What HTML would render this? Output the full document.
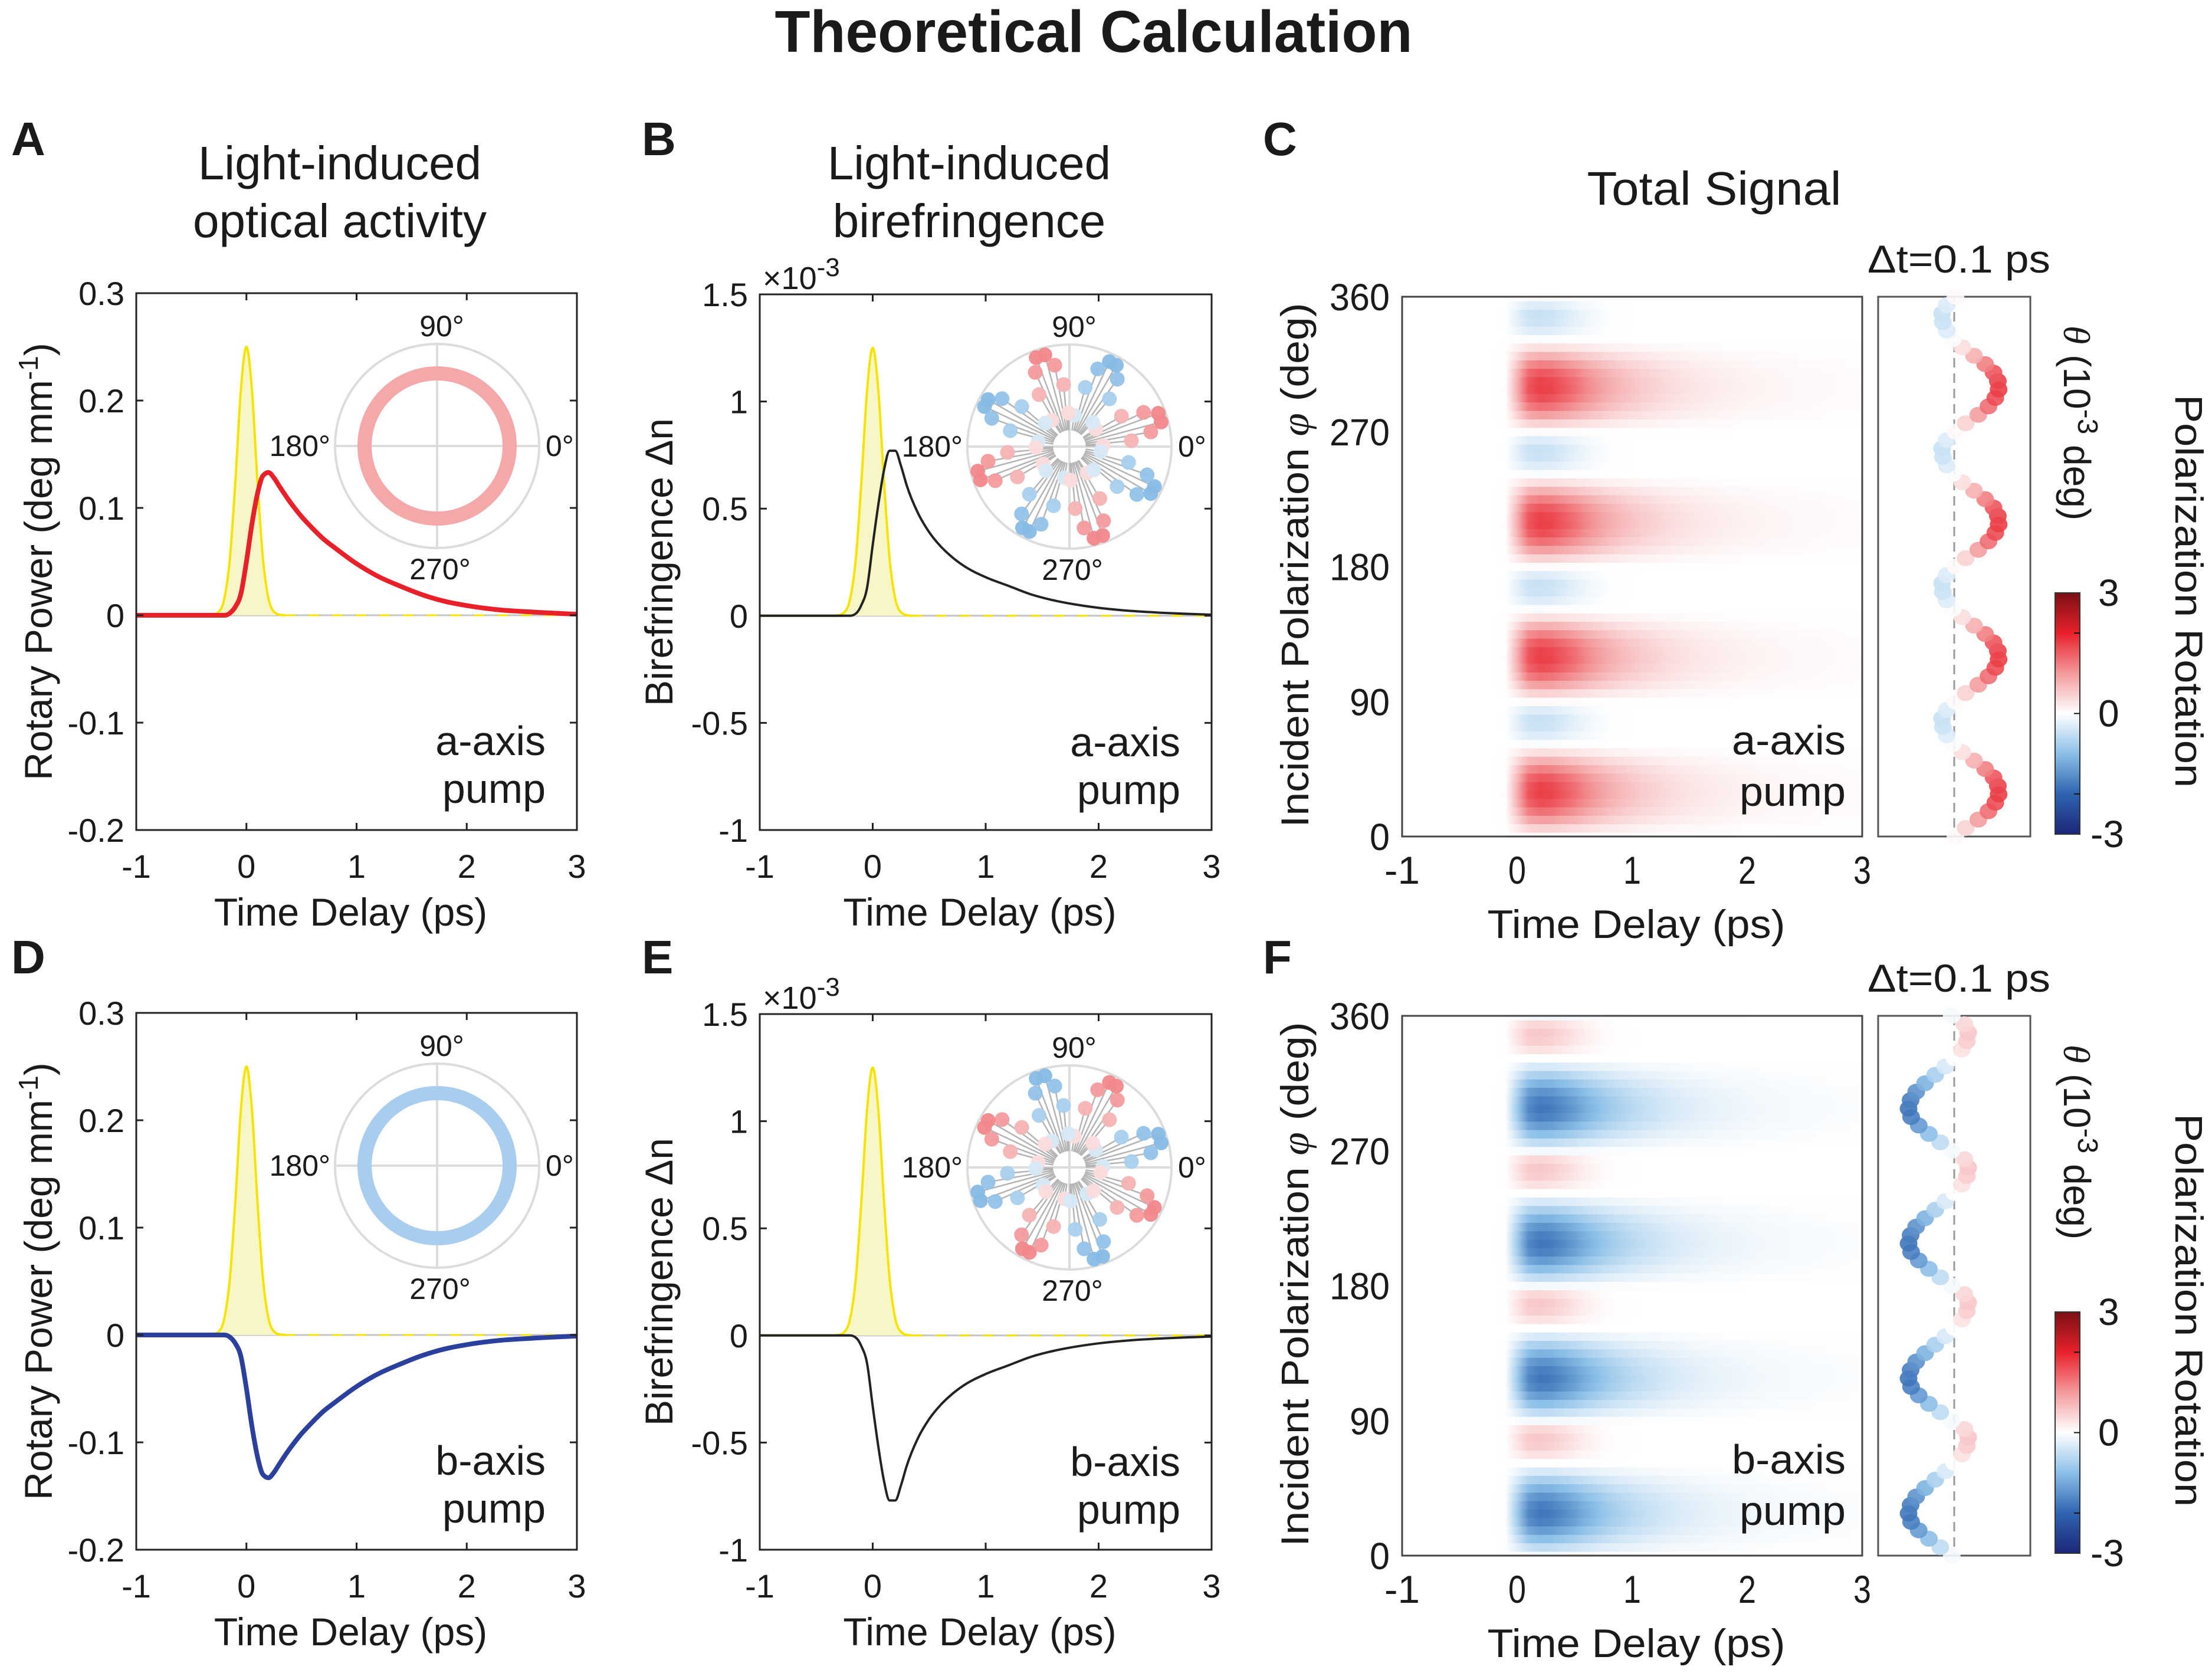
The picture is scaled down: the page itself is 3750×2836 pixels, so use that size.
<!DOCTYPE html>
<html><head><meta charset="utf-8"><title>Theoretical Calculation</title>
<style>html,body{margin:0;padding:0;background:#fff}svg{display:block}text{font-family:"Liberation Sans",sans-serif;fill:#1a1a1a}</style>
</head><body>
<svg id="fig" width="3750" height="2836" viewBox="0 0 3750 2836" xmlns="http://www.w3.org/2000/svg">
<rect x="0" y="0" width="3750" height="2836" fill="#fff"/>
<text x="1854" y="88" font-size="100" font-weight="bold" text-anchor="middle" textLength="1081" lengthAdjust="spacingAndGlyphs">Theoretical Calculation</text>
<text x="19" y="263" font-size="80" font-weight="bold">A</text>
<text x="1088" y="263" font-size="80" font-weight="bold">B</text>
<text x="2141" y="263" font-size="80" font-weight="bold">C</text>
<text x="19" y="1650" font-size="80" font-weight="bold">D</text>
<text x="1088" y="1650" font-size="80" font-weight="bold">E</text>
<text x="2141" y="1650" font-size="80" font-weight="bold">F</text>
<text x="576" y="304" font-size="80" text-anchor="middle">Light-induced</text>
<text x="576" y="402" font-size="80" text-anchor="middle">optical activity</text>
<text x="1643" y="304" font-size="80" text-anchor="middle">Light-induced</text>
<text x="1643" y="402" font-size="80" text-anchor="middle">birefringence</text>
<text x="2906" y="347" font-size="80" text-anchor="middle" textLength="431" lengthAdjust="spacingAndGlyphs">Total Signal</text>
</svg>
<script>
const NS='http://www.w3.org/2000/svg';
const svg=document.getElementById('fig');
// ---------- data ----------
const times=[-1,-0.3,-0.2,-0.15,-0.1,-0.05,0,0.05,0.1,0.15,0.2,0.25,0.3,0.4,0.5,0.6,0.7,0.8,1.0,1.2,1.4,1.6,1.8,2.0,2.3,2.6,3.0];
const rotaryA=[0,0,0,0.002,0.008,0.02,0.05,0.085,0.113,0.13,0.133,0.128,0.12,0.105,0.092,0.081,0.071,0.063,0.048,0.036,0.027,0.019,0.013,0.009,0.005,0.003,0.001];
const rotaryD=[0,0,0,-0.002,-0.008,-0.02,-0.05,-0.085,-0.113,-0.13,-0.133,-0.128,-0.12,-0.105,-0.092,-0.081,-0.071,-0.063,-0.048,-0.036,-0.027,-0.019,-0.013,-0.009,-0.005,-0.003,-0.001];
const birefB=[0,0,0,0.01,0.05,0.13,0.33,0.52,0.68,0.77,0.77,0.70,0.61,0.48,0.39,0.325,0.275,0.235,0.18,0.14,0.10,0.072,0.052,0.037,0.022,0.013,0.005];
const birefE=[0,0,0,-0.01,-0.05,-0.13,-0.33,-0.52,-0.68,-0.77,-0.77,-0.70,-0.61,-0.48,-0.39,-0.325,-0.275,-0.235,-0.18,-0.14,-0.10,-0.072,-0.052,-0.037,-0.022,-0.013,-0.005];
const pumpTimes=[-1,-0.35,-0.3,-0.25,-0.2,-0.15,-0.1,-0.05,0,0.05,0.1,0.15,0.2,0.25,0.3,0.35];
const pumpRot=[0,0,0.0005,0.0033,0.0157,0.0527,0.125,0.21,0.25,0.21,0.125,0.0527,0.0157,0.0033,0.0005,0];
const pumpBiref=[0,0,0.0025,0.0165,0.0785,0.264,0.625,1.05,1.25,1.05,0.625,0.264,0.0785,0.0165,0.0025,0];
const xTicks=[-1,0,1,2,3];
const xTickLabels=['-1','0','1','2','3'];
const rotTicks=[0.3,0.2,0.1,0,-0.1,-0.2];
const rotTickLabels=['0.3','0.2','0.1','0','-0.1','-0.2'];
const birTicks=[1.5,1,0.5,0,-0.5,-1];
const birTickLabels=['1.5','1','0.5','0','-0.5','-1'];
const phiTicks=[360,270,180,90,0];
const phiTickLabels=['360','270','180','90','0'];
// heatmap kinetics (normalised), t = -1..3 step 0.1
const hmTimes=[-1,-0.9,-0.8,-0.7,-0.6,-0.5,-0.4,-0.3,-0.2,-0.1,0,0.1,0.2,0.3,0.4,0.5,0.6,0.7,0.8,0.9,1.0,1.1,1.2,1.3,1.4,1.5,1.6,1.7,1.8,1.9,2.0,2.1,2.2,2.3,2.4,2.5,2.6,2.7,2.8,2.9,3.0];
const hmKinetics=[0,0,0,0,0,0,0,0,0,0.02,0.45,0.9,1.0,0.97,0.88,0.78,0.66,0.56,0.47,0.4,0.34,0.29,0.25,0.21,0.18,0.155,0.135,0.115,0.1,0.088,0.077,0.068,0.06,0.053,0.047,0.042,0.037,0.033,0.03,0.027,0.024];
const hmKineticsShort=[0,0,0,0,0,0,0,0,0,0.02,0.5,0.95,1.0,0.9,0.72,0.5,0.3,0.16,0.07,0.03,0.01,0,0,0,0,0,0,0,0,0,0,0,0,0,0,0,0,0,0,0,0];
// angular profile at dt=0.1 ps, phi = k*5.625 deg (10^-3 deg)
const profileA=[0.05,0.45,0.95,1.35,1.62,1.75,1.72,1.55,1.22,0.78,0.32,-0.05,-0.3,-0.45,-0.48,-0.3,
0.05,0.45,0.95,1.35,1.62,1.75,1.72,1.55,1.22,0.78,0.32,-0.05,-0.3,-0.45,-0.48,-0.3,
0.05,0.45,0.95,1.35,1.62,1.75,1.72,1.55,1.22,0.78,0.32,-0.05,-0.3,-0.45,-0.48,-0.3,
0.05,0.45,0.95,1.35,1.62,1.75,1.72,1.55,1.22,0.78,0.32,-0.05,-0.3,-0.45,-0.48,-0.3];
const profileB=[-0.1,-0.55,-1.0,-1.4,-1.7,-1.8,-1.72,-1.5,-1.15,-0.75,-0.35,0.0,0.3,0.5,0.55,0.4,
-0.1,-0.55,-1.0,-1.4,-1.7,-1.8,-1.72,-1.5,-1.15,-0.75,-0.35,0.0,0.3,0.5,0.55,0.4,
-0.1,-0.55,-1.0,-1.4,-1.7,-1.8,-1.72,-1.5,-1.15,-0.75,-0.35,0.0,0.3,0.5,0.55,0.4,
-0.1,-0.55,-1.0,-1.4,-1.7,-1.8,-1.72,-1.5,-1.15,-0.75,-0.35,0.0,0.3,0.5,0.55,0.4];
// polar inset (one quadrant, repeated every 90 deg)
const polarAngles=[1.7,5.4,10.2,15,20.5,24.7,30.3,33.7,46,50,54.6,60,64.8,70,75,81];
const polarRadius=[0.33,0.61,0.81,0.93,0.93,0.80,0.59,0.31,0.33,0.61,0.81,0.92,0.92,0.81,0.60,0.31];
const polarValuesB=[0.35,0.75,1.0,1.15,1.15,1.0,0.75,0.35,-0.35,-0.75,-0.95,-1.05,-1.05,-0.95,-0.75,-0.35];
const polarValuesE=[-0.35,-0.75,-0.95,-1.05,-1.05,-0.95,-0.75,-0.35,0.35,0.75,1.0,1.15,1.15,1.0,0.75,0.35];
const cmapValues=[-3,-2,-1,0,1,2,3];
const cmapColors=['#1c2677','#2e64b0','#8cc0e8','#ffffff','#f39a9c','#e8202a','#7a1014'];

// ---------- helpers ----------
function mk(tag,attrs,parent){const el=document.createElementNS(NS,tag);for(const k in attrs)el.setAttribute(k,attrs[k]);(parent||svg).appendChild(el);return el;}
function hex2rgb(h){return [parseInt(h.slice(1,3),16),parseInt(h.slice(3,5),16),parseInt(h.slice(5,7),16)];}
function cmap(v){v=Math.max(-3,Math.min(3,v));let i=0;while(i<cmapValues.length-2&&v>cmapValues[i+1])i++;
 const f=(v-cmapValues[i])/(cmapValues[i+1]-cmapValues[i]);const a=hex2rgb(cmapColors[i]),b=hex2rgb(cmapColors[i+1]);
 return 'rgb('+a.map((c,j)=>Math.round(c+(b[j]-c)*f)).join(',')+')';}
function lin(d0,d1,r0,r1){return v=>r0+(v-d0)/(d1-d0)*(r1-r0);}
function monoPath(xs,ys){const n=xs.length;const s=[];for(let i=0;i<n-1;i++)s.push((ys[i+1]-ys[i])/(xs[i+1]-xs[i]));
 const t=[];for(let i=0;i<n;i++){if(i===0)t.push(s[0]);else if(i===n-1)t.push(s[n-2]);else{const h0=xs[i]-xs[i-1],h1=xs[i+1]-xs[i];const p=(s[i-1]*h1+s[i]*h0)/(h0+h1);
 t.push((Math.sign(s[i-1])+Math.sign(s[i]))*Math.min(Math.abs(s[i-1]),Math.abs(s[i]),0.5*Math.abs(p))||0);}}
 let d='M'+xs[0].toFixed(1)+','+ys[0].toFixed(1);
 for(let i=0;i<n-1;i++){const dx=(xs[i+1]-xs[i])/3;d+=' C'+(xs[i]+dx).toFixed(1)+','+(ys[i]+dx*t[i]).toFixed(1)+' '+(xs[i+1]-dx).toFixed(1)+','+(ys[i+1]-dx*t[i+1]).toFixed(1)+' '+xs[i+1].toFixed(1)+','+ys[i+1].toFixed(1);}
 return d;}

// ---------- line panels ----------
function linePanel(p){
 const g=mk('g',{});
 
 
 const sx=lin(-1,3,p.x0,p.x1), sy=lin(p.ymin,p.ymax,p.y1,p.y0);
 const z=mk('line',{x1:p.x0,x2:p.x1,y1:sy(0),y2:sy(0),stroke:'#c4c4c4','stroke-width':3},g);
 
 
 const zd=mk('line',{x1:sx(0.35),x2:p.x1,y1:sy(0),y2:sy(0),stroke:'#f5e400','stroke-width':3,'stroke-dasharray':'18,22'},g);
 
 
 const pxs=pumpTimes.map(sx), pys=p.pump.map(sy);
 const pd=monoPath(pxs,pys);
 const pf=mk('path',{d:pd+' L'+pxs[pxs.length-1]+','+sy(0)+' L'+pxs[0]+','+sy(0)+'Z',fill:'#f8f6c6',stroke:'none'},g);
 
 
 const pl=mk('path',{d:pd,fill:'none',stroke:'#f5e400','stroke-width':4},g);
 
 
 const sl=mk('path',{d:monoPath(times.map(sx),p.series.map(sy)),fill:'none',stroke:p.color,'stroke-width':p.width,'stroke-linejoin':'round'},g);
 
 
 const bx=mk('rect',{x:p.x0,y:p.y0,width:p.x1-p.x0,height:p.y1-p.y0,fill:'none',stroke:'#222','stroke-width':3},g);
 
 
 xTicks.forEach((v,i)=>{
  const x=sx(v);
  const t1=mk('path',{d:'M'+x+','+p.y1+'v-12M'+x+','+p.y0+'v12',stroke:'#222','stroke-width':3},g);
  
  
  const tl=mk('text',{x:x,y:p.y1+81,'font-size':56,'text-anchor':'middle'},g);
  tl.textContent=xTickLabels[i];
  
  
 });
 p.yticks.forEach((v,i)=>{
  const y=sy(v);
  const t1=mk('path',{d:'M'+p.x0+','+y+'h12M'+p.x1+','+y+'h-12',stroke:'#222','stroke-width':3},g);
  
  
  const tl=mk('text',{x:p.x0-20,y:y+20,'font-size':56,'text-anchor':'end'},g);
  tl.textContent=p.ylabels[i];
  
  
 });
 const xt=mk('text',{x:(p.x0+p.x1)/2-10,y:p.y1+162,'font-size':66,'text-anchor':'middle'},g);
 xt.textContent='Time Delay (ps)';
 
 
 const yt=mk('text',{transform:'translate('+p.ytx+','+(p.y0+p.y1)/2+') rotate(-90)','font-size':66,'text-anchor':'middle'},g);
 yt.innerHTML=p.ytitle;
 
 
 const l1=mk('text',{x:p.x1-53,y:p.y0+783,'font-size':70,'text-anchor':'end'},g);
 l1.textContent=p.pumpLabel;
 
 
 const l2=mk('text',{x:p.x1-53,y:p.y0+864,'font-size':70,'text-anchor':'end'},g);
 l2.textContent='pump';
 
 
 if(p.exp){const ex=mk('text',{x:p.x0+5,y:p.y0-9,'font-size':54},g);
  ex.innerHTML='×10<tspan dy="-22" font-size="44">-3</tspan>';
  
  }
 const cx=p.pcx, cy=p.pcy, R=173;
 const pg=mk('g',{},g);
 
 
 const pc=mk('circle',{cx:cx,cy:cy,r:R,fill:'#fff',stroke:'#dcdcdc','stroke-width':4},pg);
 
 
 const pgl=mk('path',{d:'M'+(cx-R)+','+cy+'h'+2*R+'M'+cx+','+(cy-R)+'v'+2*R,stroke:'#dcdcdc','stroke-width':4},pg);
 
 
 [['90°',cx+8,cy-186,'middle'],['0°',cx+184,cy+17,'start'],['180°',cx-181,cy+17,'end'],['270°',cx+5,cy+226,'middle']].forEach(a=>{
  const t=mk('text',{x:a[1],y:a[2],'font-size':50,'text-anchor':a[3]},pg);
  t.textContent=a[0];
  
  
 });
 if(p.ring){
  const rg=mk('circle',{cx:cx,cy:cy,r:123,fill:'none',stroke:p.ring,'stroke-width':24},pg);
  
  
 } else {
  for(let q=0;q<4;q++){polarAngles.forEach((a,i)=>{
   const th=(a+90*q)*Math.PI/180, r=polarRadius[i]*R;
   const st=mk('line',{x1:cx+0.16*R*Math.cos(th),y1:cy-0.16*R*Math.sin(th),x2:cx+r*Math.cos(th),y2:cy-r*Math.sin(th),stroke:'#b4b4b4','stroke-width':2.5},pg);
   
   
  });}
  for(let q=0;q<4;q++){polarAngles.forEach((a,i)=>{
   const th=(a+90*q)*Math.PI/180, r=polarRadius[i]*R;
   const dot=mk('circle',{cx:cx+r*Math.cos(th),cy:cy-r*Math.sin(th),r:12.5,fill:cmap(p.polarVals[i]),'fill-opacity':0.95},pg);
   
   
  });}
 }
}
const rotTitle='Rotary Power (deg mm<tspan dy="-24" font-size="46">-1</tspan><tspan dy="24">)</tspan>';
const birTitle='Birefringence  Δn';
linePanel({name:'panel-a-rotary-power',x0:231,x1:978,y0:497,y1:1407,ymin:-0.2,ymax:0.3,yticks:rotTicks,ylabels:rotTickLabels,series:rotaryA,pump:pumpRot,color:'#e8202a',width:8,seriesName:'rotary-power-line-a-axis',ytitle:rotTitle,ytx:88,pumpLabel:'a-axis',pcx:741,pcy:756,ring:'#f4a8aa'});
linePanel({name:'panel-b-birefringence',x0:1288,x1:2054,y0:499,y1:1407,ymin:-1,ymax:1.5,yticks:birTicks,ylabels:birTickLabels,series:birefB,pump:pumpBiref,color:'#222',width:4,seriesName:'birefringence-line-a-axis',ytitle:birTitle,ytx:1140,pumpLabel:'a-axis',pcx:1813,pcy:757,polarVals:polarValuesB,exp:true});
linePanel({name:'panel-d-rotary-power',x0:231,x1:978,y0:1717,y1:2627,ymin:-0.2,ymax:0.3,yticks:rotTicks,ylabels:rotTickLabels,series:rotaryD,pump:pumpRot,color:'#2b3f9c',width:8,seriesName:'rotary-power-line-b-axis',ytitle:rotTitle,ytx:88,pumpLabel:'b-axis',pcx:741,pcy:1976,ring:'#a8cdef'});
linePanel({name:'panel-e-birefringence',x0:1288,x1:2054,y0:1719,y1:2627,ymin:-1,ymax:1.5,yticks:birTicks,ylabels:birTickLabels,series:birefE,pump:pumpBiref,color:'#222',width:4,seriesName:'birefringence-line-b-axis',ytitle:birTitle,ytx:1140,pumpLabel:'b-axis',pcx:1813,pcy:1979,polarVals:polarValuesE,exp:true});

// ---------- heatmap panels ----------
const defs=mk('defs',{});
function heatPanel(p){
 const g=mk('g',{});
 
 
 const x0=2377,x1=3157,y0=p.y0,y1=p.y0+915;
 const sx=lin(-1,3,x0,x1), sy=lin(0,360,y1,y0);
 const cp=mk('clipPath',{id:p.id+'clip'},defs);
 mk('rect',{x:x0,y:y0,width:x1-x0,height:y1-y0},cp);
 const hg=mk('g',{'clip-path':'url(#'+p.id+'clip)'},g);
 
 
 const rowH=(y1-y0)/64;
 for(let k=0;k<=64;k++){
  const val=p.profile[k%64];
  const kin=(Math.sign(val)===p.shortSign)?hmKineticsShort:hmKinetics;
  const gr=mk('linearGradient',{id:p.id+'g'+k,x1:0,x2:1,y1:0,y2:0},defs);
  hmTimes.forEach((t,i)=>{mk('stop',{offset:((t+1)/4).toFixed(4),'stop-color':cmap(kin[i]*val)},gr);});
  const yc=sy(k*5.625);
  const row=mk('rect',{x:x0,y:(yc-rowH/2).toFixed(2),width:x1-x0,height:(rowH+0.6).toFixed(2),fill:'url(#'+p.id+'g'+k+')'},hg);
  
  
 }
 const bx=mk('rect',{x:x0,y:y0,width:x1-x0,height:y1-y0,fill:'none',stroke:'#444','stroke-width':3},g);
 
 
 xTicks.forEach((v,i)=>{
  const tl=mk('text',{x:sx(v),y:y1+80,'font-size':66,'text-anchor':'middle',textLength:xTickLabels[i].length*30,lengthAdjust:'spacingAndGlyphs'},g);
  tl.textContent=xTickLabels[i];
  
  
 });
 phiTicks.forEach((v,i)=>{
  const tl=mk('text',{x:2356,y:sy(v)+23,'font-size':64,'text-anchor':'end',textLength:phiTickLabels[i].length*34,lengthAdjust:'spacingAndGlyphs'},g);
  tl.textContent=phiTickLabels[i];
  
  
 });
 const xt=mk('text',{x:2774,y:y1+172,'font-size':68,'text-anchor':'middle',textLength:505,lengthAdjust:'spacingAndGlyphs'},g);
 xt.textContent='Time Delay (ps)';
 
 
 const yt=mk('text',{transform:'translate(2218,'+(y0+455)+') rotate(-90)','font-size':66,'text-anchor':'middle',textLength:889,lengthAdjust:'spacingAndGlyphs'},g);
 yt.innerHTML='Incident Polarization  <tspan font-family="Liberation Serif, serif" font-style="italic">φ</tspan>  (deg)';
 
 
 const l1=mk('text',{x:3129,y:y0+776,'font-size':70,'text-anchor':'end',textLength:193,lengthAdjust:'spacingAndGlyphs'},g);
 l1.textContent=p.pumpLabel;
 
 
 const l2=mk('text',{x:3129,y:y0+863,'font-size':70,'text-anchor':'end',textLength:180,lengthAdjust:'spacingAndGlyphs'},g);
 l2.textContent='pump';
 
 
 const s0=3184,s1=3442, ssx=lin(-3,3,s0,s1);
 const sb=mk('rect',{x:s0,y:y0,width:s1-s0,height:y1-y0,fill:'none',stroke:'#555','stroke-width':3},g);
 
 
 const dl=mk('line',{x1:ssx(0),x2:ssx(0),y1:y0,y2:y1,stroke:'#999','stroke-width':3,'stroke-dasharray':'16,10'},g);
 
 
 for(let k=0;k<=64;k++){
  const val=p.profile[k%64];
  const d=mk('ellipse',{cx:ssx(val),cy:sy(k*5.625),rx:15,ry:13.5,fill:cmap(val),'fill-opacity':0.9},g);
  
  
 }
 const dt=mk('text',{x:3321,y:y0-41,'font-size':66,'text-anchor':'middle',textLength:310,lengthAdjust:'spacingAndGlyphs'},g);
 dt.textContent='Δt=0.1 ps';
 
 
 const cb0=y0+502, cb1=y1-4;
 const cg=mk('linearGradient',{id:p.id+'cb',x1:0,x2:0,y1:1,y2:0},defs);
 cmapValues.forEach((v,i)=>mk('stop',{offset:(v+3)/6,'stop-color':cmapColors[i]},cg));
 const cb=mk('rect',{x:3484,y:cb0,width:42,height:cb1-cb0,fill:'url(#'+p.id+'cb)',stroke:'#333','stroke-width':2},g);
 
 
 const csy=lin(-3,3,cb1,cb0);
 [-2,0,2].forEach(v=>{const t=mk('line',{x1:3516,x2:3526,y1:csy(v),y2:csy(v),stroke:'#111','stroke-width':2},g);
  
  });
 [['3',3],['0',0],['-3',-3]].forEach(a=>{const t=mk('text',{x:a[0]==='-3'?3544:3557,y:csy(a[1])+22,'font-size':64},g);
  t.textContent=a[0];
  
  });
 const th=mk('text',{transform:'translate(3499,'+(y0+214)+') rotate(90)','font-size':64,'text-anchor':'middle'},g);
 th.innerHTML='<tspan font-family="Liberation Serif, serif" font-style="italic">θ</tspan> (10<tspan dy="-24" font-size="48">-3</tspan><tspan dy="24"> deg)</tspan>';
 
 
 const pr=mk('text',{transform:'translate(3688,'+(y0+499)+') rotate(90)','font-size':66,'text-anchor':'middle',textLength:666,lengthAdjust:'spacingAndGlyphs'},g);
 pr.textContent='Polarization Rotation';
 
 
}
heatPanel({name:'panel-c-total-signal-a-axis',id:'hc',y0:503,profile:profileA,pumpLabel:'a-axis',shortSign:-1});
heatPanel({name:'panel-f-total-signal-b-axis',id:'hf',y0:1722,profile:profileB,pumpLabel:'b-axis',shortSign:1});
</script>
</body></html>
